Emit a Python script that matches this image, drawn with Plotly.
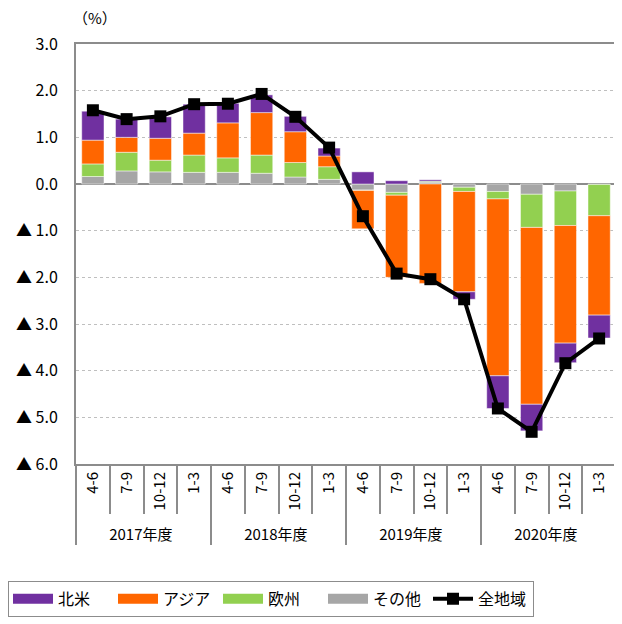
import plotly.graph_objects as go

years = ["2017年度"] * 4 + ["2018年度"] * 4 + ["2019年度"] * 4 + ["2020年度"] * 4
quarters = ["4-6", "7-9", "10-12", "1-3",
            "4-6", "7-9", "10-12", "1-3",
            "4-6", "7-9", "10-12", "1-3",
            "4-6", "7-9", "10-12", "1-3"]

north_america = [0.62, 0.39, 0.46, 0.62, 0.42, 0.38, 0.33, 0.17,
                 0.26, 0.07, 0.03, -0.16, -0.70, -0.57, -0.42, -0.49]
asia = [0.51, 0.32, 0.47, 0.47, 0.75, 0.91, 0.66, 0.23,
        -0.82, -1.76, -2.13, -2.15, -3.79, -3.79, -2.52, -2.13]
europe = [0.27, 0.40, 0.25, 0.37, 0.31, 0.39, 0.31, 0.27,
          -0.01, -0.06, 0.02, -0.09, -0.16, -0.71, -0.74, -0.67]
others = [0.16, 0.28, 0.26, 0.25, 0.25, 0.23, 0.15, 0.10,
          -0.13, -0.18, 0.04, -0.07, -0.16, -0.22, -0.15, -0.01]
all_regions = [1.58, 1.39, 1.45, 1.71, 1.72, 1.93, 1.44, 0.78,
               -0.69, -1.92, -2.04, -2.47, -4.81, -5.31, -3.84, -3.31]

y_ticks = [3, 2, 1, 0, -1, -2, -3, -4, -5, -6]
y_ticktext = ["3.0", "2.0", "1.0", "0.0", "▲ 1.0", "▲ 2.0", "▲ 3.0", "▲ 4.0", "▲ 5.0", "▲ 6.0"]

FONT = "Noto Sans CJK JP"
x = [years, quarters]

fig = go.Figure()
bar_specs = [
    ("その他", others, "#A6A6A6", 4),
    ("欧州", europe, "#92D050", 3),
    ("アジア", asia, "#FF6600", 2),
    ("北米", north_america, "#7030A0", 1),
]
for name, vals, color, rank in bar_specs:
    fig.add_trace(go.Bar(
        x=x, y=vals, name=name, showlegend=False, legendgroup=name,
        marker=dict(color=color, line=dict(color="rgba(255,255,255,0.6)", width=0.8)),
        width=0.66,
    ))
    # wide legend swatch for the bar series
    fig.add_trace(go.Scatter(
        x=[[None], [None]], y=[None], name=name, legendrank=rank, legendgroup=name,
        mode="lines", line=dict(color=color, width=12), hoverinfo="skip",
    ))

fig.add_trace(go.Scatter(
    x=x, y=all_regions, name="全地域", legendrank=5,
    mode="lines+markers",
    line=dict(color="black", width=4),
    marker=dict(symbol="square", size=12, color="black"),
))

fig.update_layout(
    width=622, height=624,
    margin=dict(l=68, r=14, t=36, b=168, autoexpand=False),
    barmode="relative",
    bargap=0.34,
    plot_bgcolor="white",
    paper_bgcolor="white",
    font=dict(family=FONT, size=15, color="black"),
    showlegend=True,
    legend=dict(
        orientation="h",
        xref="container", yref="container",
        x=0.0, y=0.082, xanchor="left", yanchor="top",
        bordercolor="#8C8C8C", borderwidth=1,
        font=dict(size=16, family=FONT),
        entrywidth=50, entrywidthmode="pixels",
        itemwidth=40,
    ),
    annotations=[dict(
        text="（%）", xref="paper", yref="paper", x=-0.01, y=1.064,
        xanchor="left", yanchor="middle", showarrow=False,
        font=dict(size=15, family=FONT),
    )],
)

fig.update_yaxes(
    range=[-6, 3], automargin=False,
    tickvals=y_ticks, ticktext=y_ticktext,
    showgrid=True, gridcolor="#BFBFBF", griddash="dot", gridwidth=1,
    zeroline=True, zerolinecolor="#8C8C8C", zerolinewidth=2,
    showline=True, linecolor="#8C8C8C", linewidth=2, mirror=True,
    ticks="", ticklabelstandoff=13,
    tickfont=dict(size=16),
)
fig.update_xaxes(
    type="multicategory", automargin=False,
    range=[-0.5, len(quarters) - 0.5],
    showline=True, linecolor="#8C8C8C", linewidth=2, mirror=True,
    ticks="outside", tickson="boundaries", ticklen=48,
    tickcolor="#8C8C8C", tickwidth=1.5,
    tickangle=-90,
    showdividers=True, dividercolor="#8C8C8C", dividerwidth=1.5,
    tickfont=dict(size=15),
    showgrid=False,
)

fig.write_html("out.html")
